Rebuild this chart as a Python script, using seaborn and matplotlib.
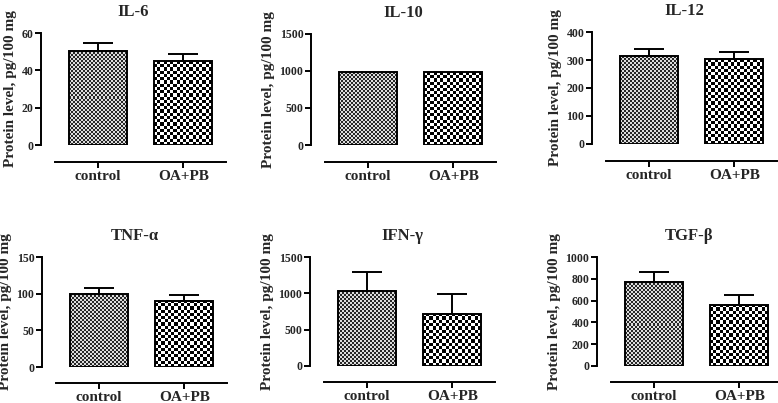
"""Cytokine protein levels, control vs OA+PB, Prism-style bar panels."""
import numpy as np
import pandas as pd
import matplotlib
matplotlib.use('Agg')
import matplotlib.pyplot as plt
import seaborn as sns

groups = ['control', 'OA+PB']

il6_mean = [50.6, 44.9]
il6_err = [4.3, 4.1]
il10_mean = [980, 980]
il10_err = [0, 0]
il12_mean = [314, 302]
il12_err = [24, 25]
tnf_mean = [100, 90]
tnf_err = [7.6, 7.6]
ifn_mean = [1035, 722]
ifn_err = [258, 262]
tgf_mean = [774, 564]
tgf_err = [86, 85]

titles = ['IL-6', 'IL-10', 'IL-12', 'TNF-α', 'IFN-γ', 'TGF-β']
ylims = [60, 1500, 400, 150, 1500, 1000]
yticks = [[0, 20, 40, 60], [0, 500, 1000, 1500], [0, 100, 200, 300, 400],
          [0, 50, 100, 150], [0, 500, 1000, 1500], [0, 200, 400, 600, 800, 1000]]
means = [il6_mean, il10_mean, il12_mean, tnf_mean, ifn_mean, tgf_mean]
errs = [il6_err, il10_err, il12_err, tnf_err, ifn_err, tgf_err]

W, H = 778, 403
# left spine x, top y, zero y (pixels)
boxes = [(41, 33, 145), (311, 34, 145), (592, 32, 144),
         (42, 257, 367), (310, 257, 366), (597, 257, 366)]
AX_W = 185

sns.set_theme(style='ticks')
plt.rcParams['font.family'] = ['Liberation Serif', 'DejaVu Serif']
plt.rcParams['font.weight'] = 'bold'

fig = plt.figure(figsize=(W / 100, H / 100), dpi=100)


def checker_fill(ax, patch, sq, dark, light):
    # paint a checkerboard texture inside a bar, clipped to its outline
    x0, w, h = patch.get_x(), patch.get_width(), patch.get_height()
    p0 = ax.transData.transform((x0, 0))
    p1 = ax.transData.transform((x0 + w, h))
    nx = max(1, int(round(abs(p1[0] - p0[0]) / sq)))
    ny = max(1, int(round(abs(p1[1] - p0[1]) / sq)))
    board = (np.add.outer(np.arange(ny), np.arange(nx)) % 2).astype(float)
    cmap = matplotlib.colors.ListedColormap([light, dark])
    im = ax.imshow(board, extent=(x0, x0 + w, 0, h), cmap=cmap,
                   interpolation='nearest', aspect='auto', zorder=1)
    im.set_clip_path(patch)


for i, (title, ymax, ticks, m, e, box) in enumerate(
        zip(titles, ylims, yticks, means, errs, boxes)):
    left, top, zero = box
    ax = fig.add_axes([left / W, 1 - zero / H, AX_W / W, (zero - top) / H])
    df = pd.DataFrame({'group': groups, 'value': m})
    sns.barplot(data=df, x='group', y='value', ax=ax, width=0.68,
                color='white', edgecolor='black', linewidth=1.4,
                errorbar=None, zorder=2)
    ax.set_xlim(-0.67, 1.5)
    ax.set_ylim(0, ymax)
    for j, patch in enumerate(ax.patches):
        patch.set_facecolor('none')
        if j == 0:
            checker_fill(ax, patch, 2.0, '#262626', '#dcdcdc')
        else:
            checker_fill(ax, patch, 3.2, '#000000', '#ffffff')
        cx = patch.get_x() + patch.get_width() / 2
        if e[j] > 0:
            ax.errorbar([cx], [m[j]], yerr=[[0], [e[j]]], fmt='none',
                        ecolor='black', elinewidth=1.4, capsize=11,
                        capthick=1.4, zorder=3)
    ax.set_title(title, fontsize=12, fontweight='bold', pad=12)
    ax.set_yticks(ticks)
    ax.set_yticklabels([str(t) for t in ticks], fontsize=8.5, fontweight='bold')
    ax.set_xticks([0, 1])
    ax.set_xticklabels(groups, fontsize=7.5, fontweight='bold')
    ax.set_xlabel('')
    ax.set_ylabel('Protein level, pg/100 mg', fontsize=11, fontweight='bold',
                  labelpad=3)
    sns.despine(ax=ax)
    # offset is in points: ~17 px below the zero line
    ax.spines['bottom'].set_position(('outward', 12.2 if i < 3 else 11.5))
    ax.spines['bottom'].set_bounds(-0.5, 1.5)
    for s in ('left', 'bottom'):
        ax.spines[s].set_linewidth(1.4)
        ax.spines[s].set_color('black')
    ax.tick_params(axis='both', length=4, width=1.4, color='black', pad=1.5)

fig.savefig('out.png', dpi=100)
